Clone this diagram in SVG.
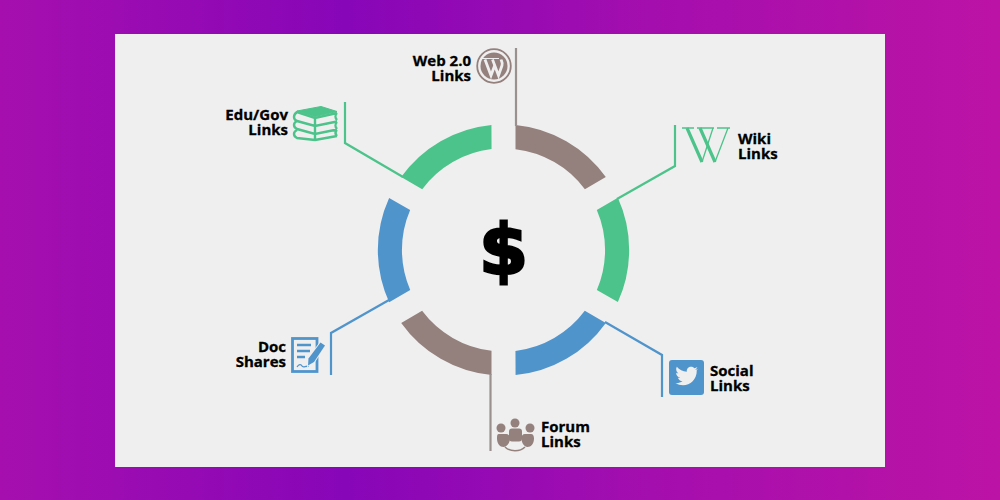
<svg xmlns="http://www.w3.org/2000/svg" width="1000" height="500" viewBox="0 0 1000 500">
<style>
.t{font-family:"Open Sans","Noto Sans","Liberation Sans",sans-serif;font-weight:700;font-size:15px;fill:#000;stroke:#000;stroke-width:.3px}
.e{text-anchor:end}
.c{fill:none;stroke-width:2.200}
.br{fill:#94807d}.gr{fill:#4cc38a}.bl{fill:#5094cc}
.sg{fill:none;stroke:#4cc38a}.sb{fill:none;stroke:#5094cc}
</style>
<defs>
<linearGradient id="bg" gradientUnits="userSpaceOnUse" x1="0" y1="0" x2="1000" y2="0">
<stop offset="0" stop-color="#a60fae"/><stop offset=".345" stop-color="#8706b8"/><stop offset=".65" stop-color="#a40eae"/><stop offset="1" stop-color="#bc13a5"/>
</linearGradient>
<path id="seg" d="M12,-125.100A125.700,125.700 0 0 1 102.300,-73L81.400,-60.800A101.500,101.500 0 0 0 12,-100.800Z"/>
</defs>
<rect width="1000" height="500" fill="url(#bg)"/>
<rect x="115" y="34" width="770" height="433" fill="#efefef"/>
<g id="ring" transform="translate(503.500,250)">
<use href="#seg" class="br"/>
<use href="#seg" class="gr" transform="rotate(60)"/>
<use href="#seg" class="bl" transform="rotate(120)"/>
<use href="#seg" class="br" transform="rotate(180)"/>
<use href="#seg" class="bl" transform="rotate(240)"/>
<use href="#seg" class="gr" transform="rotate(300)"/>
</g>
<g id="connectors">
<path class="c" stroke="#9a908e" d="M516,48V126"/>
<path class="c" stroke="#4cc38a" d="M345,102V143L403,177"/>
<path class="c" stroke="#4cc38a" d="M675,125V166L617,199"/>
<path class="c" stroke="#5094cc" d="M331,375V333L389,300"/>
<path class="c" stroke="#5094cc" d="M662,397V355L605,322"/>
<path class="c" stroke="#9a908e" d="M490.500,374V451"/>
</g>
<g id="center"><text x="503.500" y="274" text-anchor="middle" style="font-family:'DejaVu Sans',sans-serif;font-weight:700;font-size:70px;fill:#000;stroke:#000;stroke-width:2.800px">$</text></g>
<g id="web">
<text class="t e"><tspan x="471" y="66">Web 2.0</tspan><tspan x="471" y="81">Links</tspan></text>
<circle cx="494" cy="66" r="16.800" fill="none" stroke="#94807d" stroke-width="1.800"/>
<circle cx="494" cy="66" r="13.500" fill="#94807d"/>
<path d="M485,59.500l6,16 3.500-9.500M492.500,59.500l6,16 3.500-10c1-3-.5-4-1-6" fill="none" stroke="#efefef" stroke-width="2.800"/>
<path d="M482,58.500h12M491,58.500h8" fill="none" stroke="#efefef" stroke-width="1.200"/>
</g>
<g id="edu">
<text class="t e"><tspan x="288" y="120">Edu/Gov</tspan><tspan x="288" y="135">Links</tspan></text>
<path d="M297,111l24-4.500 16,5-22,5z" fill="#4cc38a" stroke="#4cc38a" stroke-linejoin="round"/>
<path d="M337,113l-22,5-18-6c-4,3-4,7 0,9l18,5 22-4.500M297,121c-4,2-4,6 0,8l18,5 22-4.500M297,130c-4,2-4,6 0,8l18,2 22-4M315,118v8M315,126v8M315,134v6M337,113c-2,2-2,5 0,7M337,122c-2,2-2,5 0,7M337,130c-2,2-2,4 0,6" class="sg" stroke-width="2.400"/>
</g>
<g id="wiki">
<path d="M682,128h12M697,128h17M717,128h13M702,162l11-34M715,162l13-34" class="sg" stroke-width="1.300"/>
<path d="M687,128l15,34M700,128l15,34" class="sg" stroke-width="3.200"/>
<text class="t"><tspan x="738" y="144">Wiki</tspan><tspan x="738" y="159">Links</tspan></text>
</g>
<g id="doc">
<text class="t e"><tspan x="286" y="352">Doc</tspan><tspan x="286" y="367">Shares</tspan></text>
<rect x="292.500" y="338.500" width="24.500" height="33" class="sb" stroke-width="2.800"/>
<path d="M297,345h14M297,351h13M297,357h8" class="sb" stroke-width="2.600"/>
<path d="M297,367c2-3 4-3 5-1s3,0 7,0" class="sb" stroke-width="1.300"/>
<path d="M320.500,342.500l4.500,3-11,16.500-6,3.500 .5-7z" fill="#5094cc" stroke="#efefef" stroke-width="1.800" paint-order="stroke"/>
</g>
<g id="social">
<rect x="669" y="360" width="35" height="35" rx="3" fill="#5094cc"/>
<path d="M698,369c-1,.5-1.800.7-2.800.8 1-.6 1.800-1.500 2.200-2.700-1,.6-2,1-3.100,1.200-2.800-3-8-1-7.500,3.500-4-.2-7.500-2-10-5-1.300,2.300-.6,5 1.500,6.500-.8,0-1.500-.2-2.200-.6 0,2.400 1.700,4.400 4,4.900-.7.200-1.400.2-2.200.1.600,2 2.500,3.400 4.600,3.400-2,1.600-4.500,2.300-7,2 9,5.700 21.500,0 21.300-13 1-.7 1.800-1.500 2.200-2.100z" fill="#efefef"/>
<text class="t"><tspan x="710" y="376">Social</tspan><tspan x="710" y="391">Links</tspan></text>
</g>
<g id="forum">
<g fill="#94807d"><circle cx="515" cy="423" r="4.500"/><circle cx="501" cy="428" r="4.500"/><circle cx="530" cy="428" r="4.500"/>
<rect x="509" y="428.500" width="13" height="13" rx="3"/><path d="M499,434h7c2.500,0 4,2 4,4.500 0,4-3,8.500-6.500,8.500s-6.500-3.500-6.500-8.500c0-2.500 0-4.500 2-4.500zM525,434h6c2,0 3,2 3,4.500 0,5-3,8.500-6.500,8.500s-6-4.500-6-8.500c0-2.500 1-4.500 3.500-4.500z"/></g>
<path d="M505,447c5,5 15,5 20,0" fill="none" stroke="#94807d" stroke-width="1.500"/>
<text class="t"><tspan x="541" y="432">Forum</tspan><tspan x="541" y="447">Links</tspan></text>
</g>
</svg>
